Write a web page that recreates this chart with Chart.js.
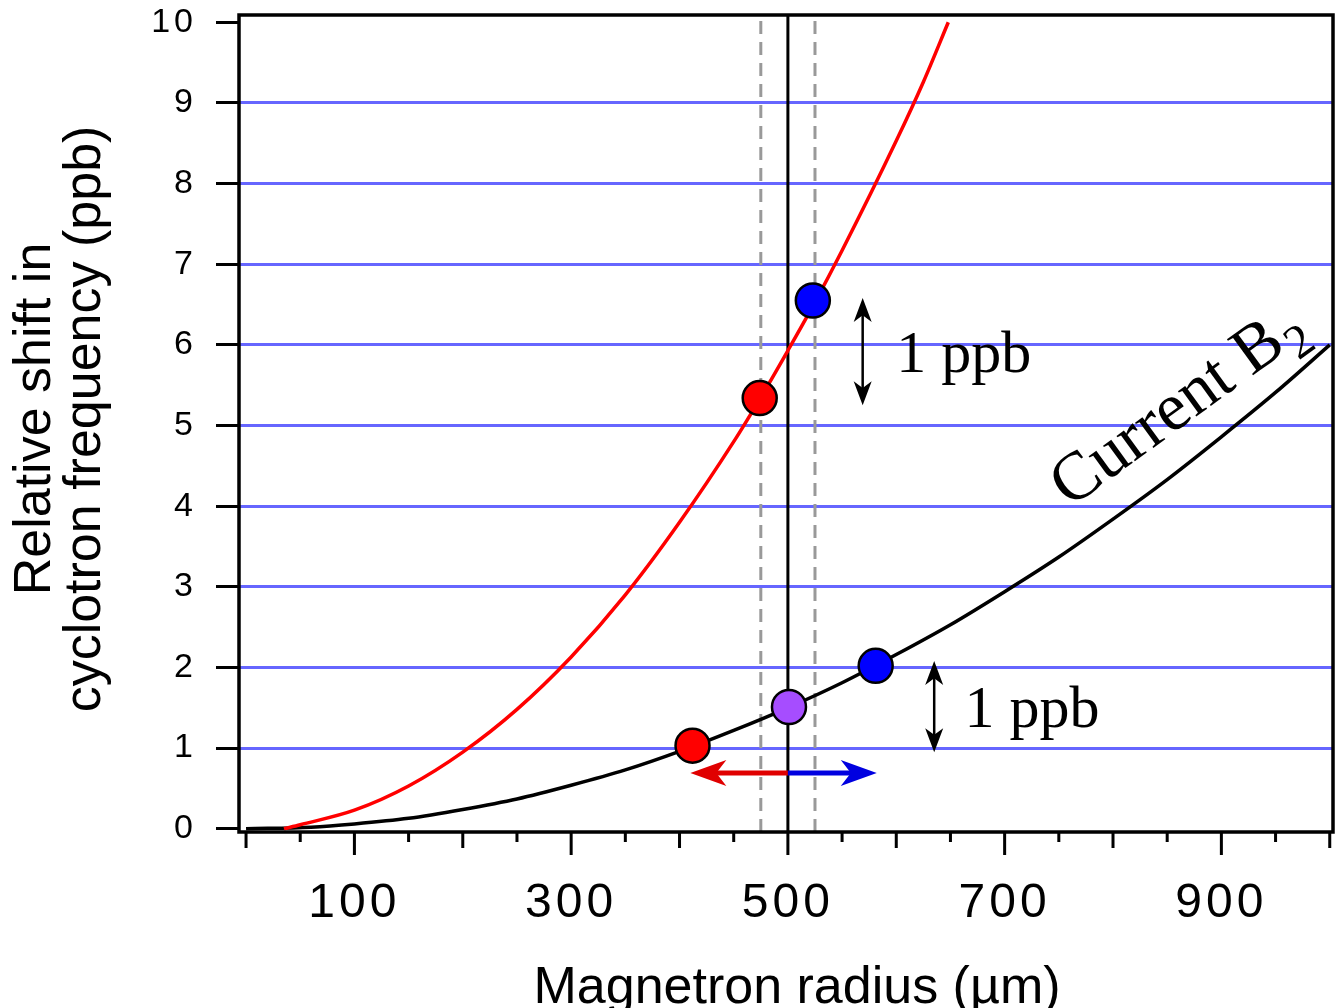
<!DOCTYPE html>
<html>
<head>
<meta charset="utf-8">
<script src="https://cdn.jsdelivr.net/npm/chart.js@4.4.1/dist/chart.umd.min.js"></script>
<style>
  html, body { margin: 0; padding: 0; background: #fff; }
  #wrap { width: 1338px; height: 1008px; }
</style>
</head>
<body>
<div id="wrap"><canvas id="myChart" width="1338" height="1008"></canvas></div>
<script>
// red curve (steeper B2)
const redX = [35, 50, 100, 150, 200, 250, 300, 350, 400, 450, 475, 500, 525, 550, 600, 625, 648];
const redY = [0, 0.05, 0.23, 0.53, 0.95, 1.48, 2.13, 2.9, 3.8, 4.8, 5.35, 5.93, 6.53, 7.17, 8.53, 9.26, 10.0];

// black curve (current B2)
const blackX = [0, 60, 100, 150, 200, 250, 300, 350, 400, 450, 500, 550, 600, 650, 700, 750, 800, 850, 900, 950, 1000];
const blackY = [0, 0.02, 0.06, 0.13, 0.24, 0.37, 0.54, 0.73, 0.96, 1.22, 1.5, 1.81, 2.16, 2.53, 2.94, 3.37, 3.84, 4.33, 4.86, 5.41, 6.0];

// circles
const dotX = [474, 523, 412, 501, 581];
const dotY = [5.34, 6.55, 1.03, 1.51, 2.02];
const dotColors = ['#ff0000', '#0000ff', '#ff0000', '#a64dff', '#0000ff'];

// vertical markers: dashed, solid, dashed
const markX = [475, 500, 525];

// annotations
const ppbArrows = [{x: 569, y1: 6.58, y2: 5.25}, {x: 635, y1: 2.08, y2: 0.95}];
const ppbLabels = [{x: 600, y: 5.66, text: '1 ppb'}, {x: 663, y: 1.26, text: '1 ppb'}];
const shiftArrowY = 0.69;
const shiftLeftTo = 410;
const shiftRightTo = 582;

const xMin = -6.5, xMax = 1003;
const yMin = -0.04, yMax = 10.09;

function pts(xs, ys) {
  return xs.map((x, i) => ({x: x, y: ys[i]}));
}

function arrowHead(ctx, x, y, ang, len, half) {
  ctx.save();
  ctx.translate(x, y);
  ctx.rotate(ang);
  ctx.beginPath();
  ctx.moveTo(0, 0);
  ctx.lineTo(-len, -half);
  ctx.lineTo(-len * 0.72, 0);
  ctx.lineTo(-len, half);
  ctx.closePath();
  ctx.fill();
  ctx.restore();
}

// no label overhang padding, the plot box is fixed
function noPad(s) {
  s.paddingTop = 0;
  s.paddingBottom = 0;
  s.paddingLeft = 0;
  s.paddingRight = 0;
}

const extras = {
  id: 'extras',
  beforeDraw(chart) {
    // wide tick numbers
    chart.ctx.letterSpacing = '4px';
  },
  afterDraw(chart) {
    const ctx = chart.ctx;
    const xs = chart.scales.x, ys = chart.scales.y;
    const a = chart.chartArea;
    ctx.letterSpacing = '0px';

    // frame
    ctx.save();
    ctx.strokeStyle = '#000';
    ctx.lineWidth = 3.5;
    ctx.strokeRect(a.left, a.top, a.right - a.left, a.bottom - a.top);

    // x tick marks, three lengths
    ctx.lineWidth = 3;
    ctx.beginPath();
    xs.ticks.forEach(t => {
      const v = t.value;
      const px = xs.getPixelForValue(v);
      let len = 10;
      if (v % 200 === 100) len = 23;
      else if (v % 100 === 0) len = 16;
      ctx.moveTo(px, a.bottom);
      ctx.lineTo(px, a.bottom + len);
    });
    ctx.stroke();

    // 1 ppb double arrows
    ctx.fillStyle = '#000';
    ctx.lineWidth = 2.5;
    ppbArrows.forEach(p => {
      const px = xs.getPixelForValue(p.x);
      const top = ys.getPixelForValue(p.y1);
      const bot = ys.getPixelForValue(p.y2);
      ctx.beginPath();
      ctx.moveTo(px, top + 12);
      ctx.lineTo(px, bot - 12);
      ctx.stroke();
      arrowHead(ctx, px, top, -Math.PI / 2, 24, 9);
      arrowHead(ctx, px, bot, Math.PI / 2, 24, 9);
    });

    ctx.font = '60px "Liberation Serif", "Times New Roman", serif';
    ctx.textAlign = 'left';
    ctx.textBaseline = 'alphabetic';
    ppbLabels.forEach(l => {
      ctx.fillText(l.text, xs.getPixelForValue(l.x), ys.getPixelForValue(l.y));
    });

    // red / blue shift arrows from the centre line
    const cy = ys.getPixelForValue(shiftArrowY);
    const cx = xs.getPixelForValue(500);
    const lx = xs.getPixelForValue(shiftLeftTo);
    const rx = xs.getPixelForValue(shiftRightTo);
    ctx.lineWidth = 5;
    ctx.strokeStyle = '#e00000';
    ctx.fillStyle = '#e00000';
    ctx.beginPath();
    ctx.moveTo(cx, cy);
    ctx.lineTo(lx + 25, cy);
    ctx.stroke();
    arrowHead(ctx, lx, cy, Math.PI, 36, 13);
    ctx.strokeStyle = '#0000e0';
    ctx.fillStyle = '#0000e0';
    ctx.beginPath();
    ctx.moveTo(cx, cy);
    ctx.lineTo(rx - 25, cy);
    ctx.stroke();
    arrowHead(ctx, rx, cy, 0, 36, 13);

    // Current B2 label along the black curve
    ctx.fillStyle = '#000';
    ctx.save();
    ctx.translate(xs.getPixelForValue(760), ys.getPixelForValue(3.97));
    ctx.rotate(-36 * Math.PI / 180);
    ctx.font = '68px "Liberation Serif", "Times New Roman", serif';
    ctx.fillText('Current B', 0, 0);
    const w = ctx.measureText('Current B').width;
    ctx.font = '48px "Liberation Serif", "Times New Roman", serif';
    ctx.fillText('2', w + 2, 15);
    ctx.restore();

    // axis titles
    ctx.font = '52px "Liberation Sans", Arial, sans-serif';
    ctx.textAlign = 'center';
    ctx.fillText('Magnetron radius (µm)', 797, 1003);

    ctx.save();
    ctx.translate(50, 419);
    ctx.rotate(-Math.PI / 2);
    ctx.fillText('Relative shift in', 0, 0);
    ctx.restore();
    ctx.save();
    ctx.translate(100, 419);
    ctx.rotate(-Math.PI / 2);
    ctx.fillText('cyclotron frequency (ppb)', 0, 0);
    ctx.restore();

    ctx.restore();
  }
};

const ctx = document.getElementById('myChart').getContext('2d');

const vLines = markX.map((x, i) => ({
  type: 'line',
  data: [{x: x, y: yMin}, {x: x, y: yMax}],
  borderColor: i === 1 ? '#000' : '#999',
  borderWidth: 3,
  borderDash: i === 1 ? [] : [13, 8],
  pointRadius: 0,
  order: 3
}));

const myChart = new Chart(ctx, {
  type: 'scatter',
  data: {
    datasets: [
      {
        data: pts(dotX, dotY),
        pointRadius: 17,
        pointHoverRadius: 17,
        pointBackgroundColor: dotColors,
        pointBorderColor: '#000',
        pointBorderWidth: 2.5,
        showLine: false,
        order: 0
      },
      {
        type: 'line',
        data: pts(redX, redY),
        borderColor: '#ff0000',
        borderWidth: 3.5,
        pointRadius: 0,
        cubicInterpolationMode: 'monotone',
        order: 1
      },
      {
        type: 'line',
        data: pts(blackX, blackY),
        borderColor: '#000',
        borderWidth: 3.5,
        pointRadius: 0,
        cubicInterpolationMode: 'monotone',
        order: 2
      },
      ...vLines
    ]
  },
  options: {
    responsive: false,
    animation: false,
    events: [],
    layout: { autoPadding: false, padding: { top: 15, right: 5, left: 0, bottom: 0 } },
    plugins: {
      legend: { display: false },
      tooltip: { enabled: false }
    },
    scales: {
      x: {
        type: 'linear',
        min: xMin,
        max: xMax,
        border: { display: false },
        grid: { display: false, drawTicks: false },
        ticks: {
          stepSize: 50,
          includeBounds: false,
          autoSkip: false,
          maxRotation: 0,
          padding: 43,
          color: '#000',
          font: { family: '"Liberation Sans", Arial, sans-serif', size: 48 },
          callback: v => (v % 200 === 100 ? String(v) : '')
        },
        afterFit: s => { s.height = 1008 - 832; noPad(s); }
      },
      y: {
        min: yMin,
        max: yMax,
        border: { display: false },
        grid: {
          color: c => (c.tick && (c.tick.value === 0 || c.tick.value === 10)) ? 'rgba(0,0,0,0)' : 'rgb(102,102,255)',
          lineWidth: 3,
          drawTicks: true,
          tickLength: 23,
          tickColor: '#000',
          tickWidth: 3
        },
        ticks: {
          stepSize: 1,
          includeBounds: false,
          padding: 19,
          color: '#000',
          font: { family: '"Liberation Sans", Arial, sans-serif', size: 34 }
        },
        afterFit: s => { s.width = 239; noPad(s); }
      }
    }
  },
  plugins: [extras]
});
</script>
</body>
</html>
